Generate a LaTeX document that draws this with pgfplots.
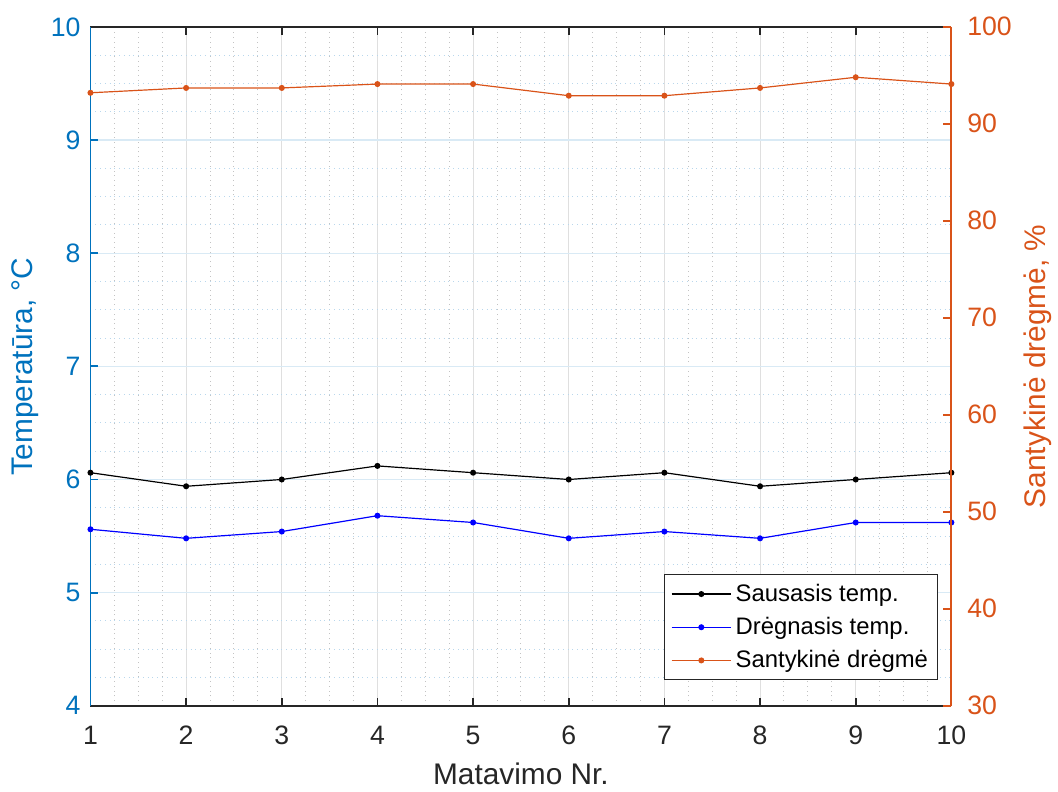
\documentclass[border=0pt]{standalone}
\usepackage{fontspec}
\setmainfont{Liberation Sans}
\usepackage{pgfplots}
\pgfplotsset{compat=1.18}

\definecolor{mblue}{RGB}{0,114,189}
\definecolor{morange}{RGB}{217,83,25}
\definecolor{axgray}{RGB}{38,38,38}
\definecolor{gridgray}{RGB}{223,223,223}
\definecolor{gridblue}{RGB}{217,234,245}
\definecolor{mingray}{RGB}{195,195,195}
\definecolor{minblue}{RGB}{185,215,236}

\pgfplotsset{
  common/.style={
    width=433pt, height=341.5pt, scale only axis,
    xmin=1, xmax=10,
    tick align=inside,
    major tick length=4pt,
    minor tick length=0pt,
    axis line style={-, line width=0.9pt},
    /pgf/number format/assume math mode=true,
    tick label style={font=\fontsize{13.4}{15}\selectfont},
    label style={font=\fontsize{15}{17}\selectfont},
  }
}

\begin{document}
\begin{tikzpicture}
\begin{axis}[
  common,
  name=ax,
  axis x line*=box,
  axis y line*=left,
  ymin=4, ymax=10,
  xtick={1,...,10},
  ytick={4,...,10},
  minor x tick num=3,
  minor y tick num=3,
  x axis line style={color=axgray},
  y axis line style={color=mblue},
  x tick style={color=axgray, line width=0.9pt},
  y tick style={color=mblue, line width=0.9pt},
  x tick label style={color=axgray, yshift=-6.5pt},
  y tick label style={color=mblue, xshift=-1.5pt},
  xlabel={Matavimo Nr.},
  ylabel={Temperatūra, °C},
  xlabel style={color=axgray, at={(axis description cs:0.5,-0.0996)}, anchor=center},
  ylabel style={color=mblue, at={(axis description cs:-0.0762,0.5)}, anchor=center},
  xmajorgrids, ymajorgrids, xminorgrids, yminorgrids,
  major x grid style={color=gridgray, line width=0.5pt},
  major y grid style={color=gridblue, line width=0.6pt},
  minor x grid style={color=mingray, dotted, line width=0.5pt},
  minor y grid style={color=minblue, dotted, line width=0.5pt},
  legend style={
    at={(0.985,0.038)}, anchor=south east,
    draw=axgray, line width=0.5pt,
    font=\fontsize{12}{14}\selectfont,
    cells={anchor=west},
    inner xsep=3pt, inner ysep=2.5pt,
    row sep=2.5pt,
  },
  legend image code/.code={
    \draw[mark repeat=2, mark phase=2] plot coordinates {(0pt,0pt) (15pt,0pt) (30pt,0pt)};
  },
]
\addplot[black, line width=0.6pt, mark=*, mark size=1.2pt] coordinates {
  (1,6.06) (2,5.94) (3,6.00) (4,6.12) (5,6.06) (6,6.00) (7,6.06) (8,5.94) (9,6.00) (10,6.06)
};
\addlegendentry{Sausasis temp.}
\addplot[blue, line width=0.6pt, mark=*, mark size=1.2pt] coordinates {
  (1,5.56) (2,5.48) (3,5.54) (4,5.68) (5,5.62) (6,5.48) (7,5.54) (8,5.48) (9,5.62) (10,5.62)
};
\addlegendentry{Drėgnasis temp.}
\addlegendimage{morange, line width=0.6pt, mark=*, mark size=1.2pt}
\addlegendentry{Santykinė drėgmė}
\end{axis}
\begin{axis}[
  common,
  axis x line=none,
  axis y line*=right,
  ymin=30, ymax=100,
  ytick={30,40,...,100},
  y axis line style={color=morange},
  y tick style={color=morange, line width=0.9pt},
  y tick label style={color=morange, xshift=4.5pt},
  ylabel={Santykinė drėgmė, \%},
  ylabel style={color=morange, at={(axis description cs:1.1,0.5)}, anchor=center},
]
\addplot[morange, line width=0.6pt, mark=*, mark size=1.2pt] coordinates {
  (1,93.2) (2,93.7) (3,93.7) (4,94.1) (5,94.1) (6,92.9) (7,92.9) (8,93.7) (9,94.8) (10,94.1)
};
\end{axis}
\path (ax.south west) ++(-45.5pt,-40pt) coordinate (bl);
\path (ax.north east) ++(50.5pt,13.5pt) coordinate (tr);
\useasboundingbox (bl) rectangle (tr);
\end{tikzpicture}
\end{document}
